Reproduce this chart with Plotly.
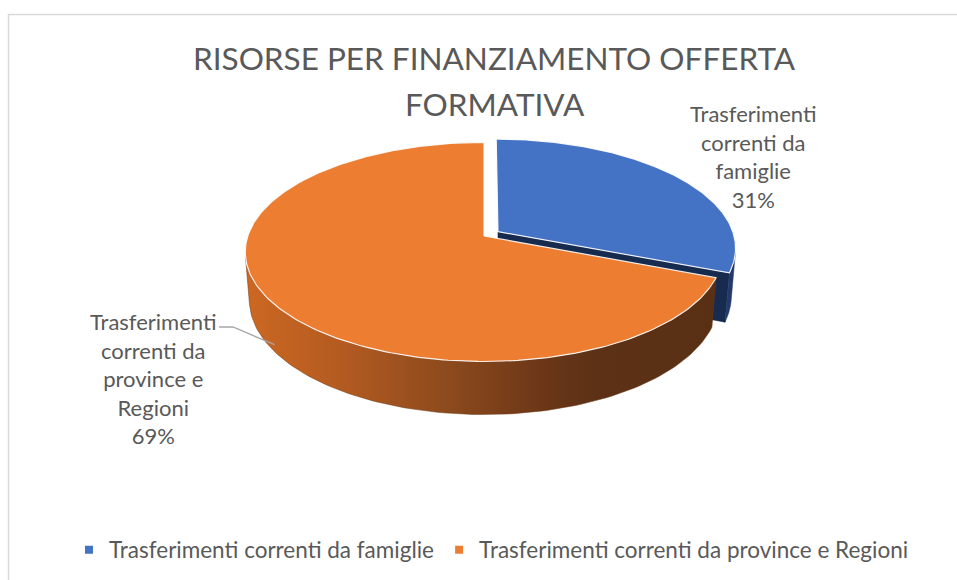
import numpy as np
import plotly.graph_objects as go

# ---------------- data ----------------
categories = ["Trasferimenti correnti da famiglie",
              "Trasferimenti correnti da province e Regioni"]
label_lines = [["Trasferimenti", "correnti da", "famiglie"],
               ["Trasferimenti", "correnti da", "province e", "Regioni"]]
values = [31, 69]
top_colors = ["#4472C4", "#ED7D31"]
side_colors = ["#22396A", None]          # blue side is flat, orange side uses gradient
cut_colors = ["#172B4F", "#7A3C12"]
title_lines = ["RISORSE PER FINANZIAMENTO OFFERTA", "FORMATIVA"]

# ---------------- style / geometry (layout constants) ----------------
W, H = 957, 580
FONT = "Lato, Open Sans, sans-serif"
GREY = "#595959"
CX, CY = 484.0, 236.0          # screen position of the pie centre
TILT = np.radians(27.0)        # camera elevation
DIST = 6.13                    # camera distance (in pie radii)
FOCAL = 1448.0                 # projection scale (px)
THICK = 0.23                   # pie thickness (in pie radii)
PULL = [0.072, 0.0]            # explode amount per slice
S, C = np.sin(TILT), np.cos(TILT)
ORANGE_SIDE_SCALE = [[0.0, "#CC6822"], [0.2, "#B45B21"], [0.42, "#8E4B1D"],
                     [0.64, "#6B3617"], [0.74, "#5C3116"], [1.0, "#5A3015"]]


def proj(X, Z, Y=0.0):
    X, Z, Y = np.asarray(X, float), np.asarray(Z, float), np.asarray(Y, float)
    d = DIST - Y * S + Z * C
    sx = X * FOCAL / d
    sy = (Y * C + Z * S) * FOCAL / d
    return CX + sx, CY - sy


def rim(theta_deg, off, Y=0.0):
    t = np.radians(theta_deg)
    return proj(np.sin(t) + off[0], np.cos(t) + off[1], Y)


# angles clockwise from 12 o'clock (the far point of the disc)
total = float(sum(values))
fracs = [v / total for v in values]
bounds = np.concatenate([[0.0], np.cumsum(fracs) * 360.0])
silhouette = np.degrees(np.arccos(-1.0 / (DIST * C)))   # wall visible for cos(theta) < -1/L
vis_lo, vis_hi = silhouette, 360.0 - silhouette

fig = go.Figure()

slices = []
for i in range(len(values)):
    a0, a1 = bounds[i], bounds[i + 1]
    mid = np.radians((a0 + a1) / 2)
    off = (PULL[i] * np.sin(mid), PULL[i] * np.cos(mid))
    slices.append((a0, a1, off))

for i in range(len(values)):   # back-right slice first, then the front slice
    a0, a1, off = slices[i]
    # radial cut wall at the slice's end edge, if it faces the viewer
    t1 = np.radians(a1)
    if -np.sin(t1) < 0 and a1 < 360:
        ax_t, ay_t = proj(off[0], off[1], 0.0)
        rx_t, ry_t = rim(a1, off, 0.0)
        rx_b, ry_b = rim(a1, off, -THICK)
        ax_b, ay_b = proj(off[0], off[1], -THICK)
        fig.add_trace(go.Scatter(
            x=[float(ax_t), float(rx_t), float(rx_b), float(ax_b), float(ax_t)],
            y=[float(ay_t), float(ry_t), float(ry_b), float(ay_b), float(ay_t)],
            mode="lines", fill="toself", fillcolor=cut_colors[i],
            line=dict(color=cut_colors[i], width=0.5),
            hoverinfo="skip", showlegend=False))
    # outer side wall
    lo, hi = max(a0, vis_lo), min(a1, vis_hi)
    if hi > lo:
        th = np.linspace(lo, hi, 120)
        xt, yt = rim(th, off, 0.0)
        xb, yb = rim(th[::-1], off, -THICK)
        xs = np.concatenate([xt, xb, xt[:1]])
        ys = np.concatenate([yt, yb, yt[:1]])
        kw = dict(fill="toself")
        if side_colors[i] is None:
            kw["fillgradient"] = dict(type="horizontal", colorscale=ORANGE_SIDE_SCALE)
            lc = "#6B3617"
        else:
            kw["fillcolor"] = side_colors[i]
            lc = side_colors[i]
        fig.add_trace(go.Scatter(x=xs, y=ys, mode="lines",
                                 line=dict(color=lc, width=0.5),
                                 hoverinfo="skip", showlegend=False, **kw))
    # top face
    th = np.linspace(a0, a1, 240)
    xr, yr = rim(th, off, 0.0)
    axp, ayp = proj(off[0], off[1], 0.0)
    xs = np.concatenate([[axp], xr, [axp]])
    ys = np.concatenate([[ayp], yr, [ayp]])
    fig.add_trace(go.Scatter(
        x=xs, y=ys, mode="lines", fill="toself", fillcolor=top_colors[i],
        line=dict(color="rgba(255,255,255,0.9)", width=1.2),
        name=categories[i], hoverinfo="name", showlegend=False))

# legend entries
for i, cat in enumerate(categories):
    fig.add_trace(go.Scatter(
        x=[None], y=[None], mode="markers", name=cat,
        marker=dict(symbol="square", size=8, color=top_colors[i]),
        showlegend=True))

# data labels
pcts = [round(f * 100) for f in fracs]
label_pos = [(753, 156), (153, 378)]
annotations = []
for i in range(len(values)):
    txt = "<br>".join(label_lines[i] + [f"{pcts[i]}%"])
    annotations.append(dict(
        text=txt, x=label_pos[i][0], y=label_pos[i][1], xref="x", yref="y",
        xanchor="center", yanchor="middle", align="center", showarrow=False,
        font=dict(family=FONT, size=22, color=GREY)))

# leader line for the left label, ending on the front slice's side wall
mid1 = (slices[1][0] + slices[1][1]) / 2
lx, ly = rim(mid1, slices[1][2], -0.85 * THICK)
leader = dict(type="path", xref="x", yref="y",
              path=f"M 219 327 L 233 327 L {float(lx):.1f} {float(ly):.1f}",
              line=dict(color="#A6A6A6", width=1.3))

for i, line in enumerate(title_lines):
    annotations.append(dict(
        text=line, xref="paper", yref="paper",
        x=494.5 / W, xanchor="center",
        y=1 - (58 + 46 * i) / H, yanchor="middle",
        showarrow=False,
        font=dict(family=FONT, size=31.5, color=GREY)))

fig.update_layout(
    width=W, height=H,
    margin=dict(l=0, r=0, t=0, b=0),
    paper_bgcolor="white",
    plot_bgcolor="white",
    xaxis=dict(range=[0, W], visible=False, fixedrange=True),
    yaxis=dict(range=[H, 0], visible=False, fixedrange=True),
    annotations=annotations,
    legend=dict(
        orientation="h",
        x=491.5 / W, xanchor="center",
        y=1 - 550 / H, yanchor="middle",
        font=dict(family=FONT, size=22.5, color=GREY),
        itemwidth=30,
    ),
    shapes=[dict(
        type="rect", xref="paper", yref="paper",
        x0=8.5 / W, x1=1.02, y0=-0.02, y1=1 - 14.5 / H,
        line=dict(color="#D9D9D9", width=1.5),
        fillcolor="rgba(0,0,0,0)", layer="below",
    ), leader],
)

fig.write_html(
    "out.html",
    config={"displayModeBar": False},
    post_script="document.body.style.margin='0';document.body.style.overflow='hidden';",
)
